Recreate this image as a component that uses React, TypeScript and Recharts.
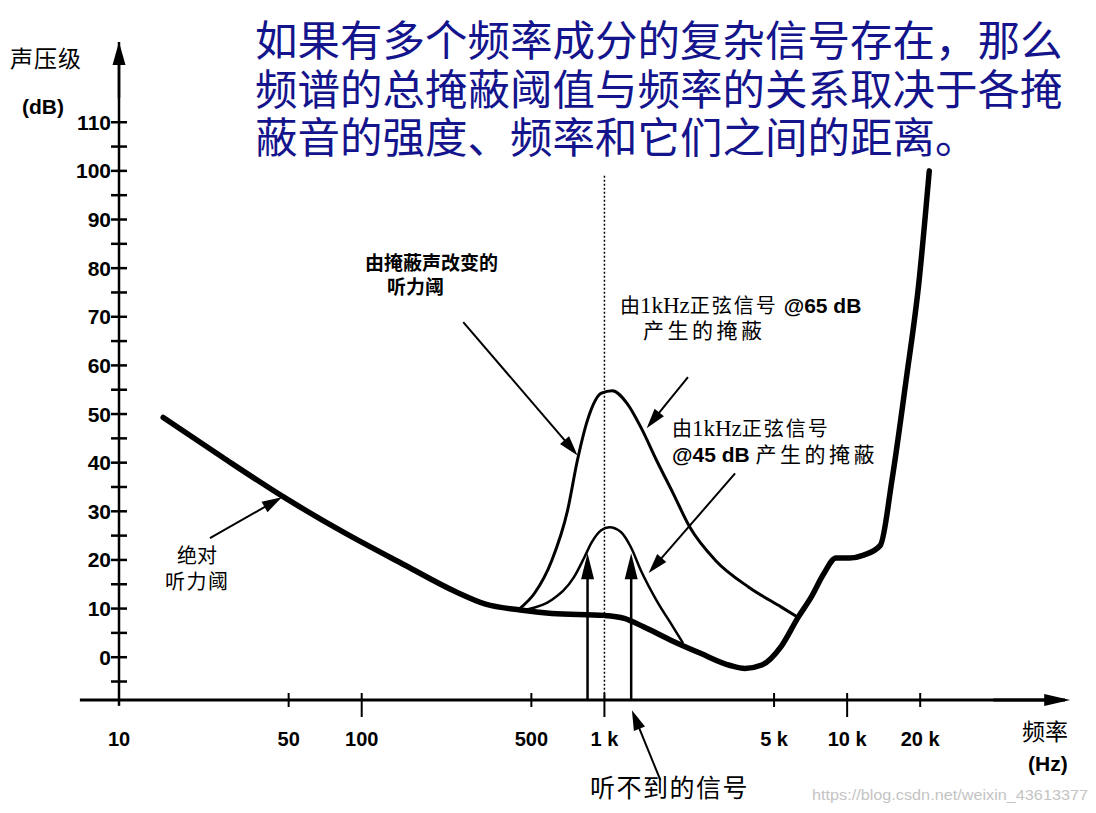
import React from 'react'
import { LineChart, Line, XAxis, YAxis, ReferenceLine } from 'recharts'

// absolute threshold of hearing (thick curve)
const thresholdHz = [15.2, 26.7, 47.8, 85.5, 151, 243, 324, 450, 608, 1000, 1207, 1456, 1877, 2488, 3300, 3790, 4450, 5360, 6280, 7100, 8000, 9000, 10200, 11700, 13700, 15300, 17500, 19700, 21800]
const thresholdDb = [49.3, 41.1, 32.9, 25.5, 18.9, 13.5, 10.9, 9.7, 9.0, 8.6, 8.0, 6.2, 3.5, 0.8, -1.7, -2.3, -1.6, 2.3, 8.2, 12.3, 17.1, 20.4, 20.4, 21.0, 23.0, 36.4, 57.0, 76.5, 100.0]

// masking by a 1 kHz tone @65 dB
const mask65Hz = [448, 516, 607, 705, 774, 851, 972, 1077, 1239, 1412, 1639, 1919, 2250, 2869, 3934, 5358, 6280]
const mask65Db = [10.0, 13.2, 19.9, 30.2, 40.5, 48.7, 54.3, 54.8, 52.2, 47.3, 40.5, 33.7, 26.7, 19.9, 14.4, 10.3, 8.2]

// masking by a 1 kHz tone @45 dB
const mask45Hz = [480, 608, 750, 826, 886, 970, 1048, 1172, 1286, 1412, 1639, 1919, 2108]
const mask45Db = [9.8, 11.8, 16.5, 20.5, 23.6, 26.1, 26.7, 25.7, 22.6, 17.9, 11.7, 6.2, 2.9]

// inaudible signals (vertical arrows)
const signalHz = [852, 1289]
const signalDb = [21.4, 21.4]

const xTicks = [10, 50, 100, 500, 1000, 5000, 10000, 20000]
const xTickLabels = ['10', '50', '100', '500', '1 k', '5 k', '10 k', '20 k']
const yTicks = [-5, 0, 5, 10, 15, 20, 25, 30, 35, 40, 45, 50, 55, 60, 65, 70, 75, 80, 85, 90, 95, 100, 105, 110]

const Y_MIN = -8.8
const Y_MAX = 126.5

const toRows = (hz: number[], db: number[]) => hz.map((f, i) => ({ f, db: db[i] }))

const SANS = '"Liberation Sans", Arial, sans-serif'
const CJK = '"Noto Sans CJK SC", sans-serif'
const SERIF = '"Liberation Serif", "Times New Roman", serif'

const arrowShape = (w: number, len: number, half: number) => (p: any) => {
    const { x1, y1, x2, y2 } = p
    const dx = x2 - x1
    const dy = y2 - y1
    const L = Math.hypot(dx, dy) || 1
    const ux = dx / L
    const uy = dy / L
    const bx = x2 - ux * len
    const by = y2 - uy * len
    const pts = `${x2},${y2} ${bx - uy * half},${by + ux * half} ${bx + uy * half},${by - ux * half}`
    return (
        <g>
            <line x1={x1} y1={y1} x2={bx + ux * 2} y2={by + uy * 2} stroke="#000" strokeWidth={w} />
            <polygon points={pts} fill="#000" />
        </g>
    )
}

const XTick = (p: any) => {
    const { x, payload } = p
    const y = 700
    const v = payload.value
    const label = xTickLabels[xTicks.indexOf(v)]
    const long = v === 100 || v === 1000 || v === 10000
    return (
        <g>
            {v !== 10 && (
                <line x1={x} x2={x} y1={y - 7} y2={y + (long ? 17 : 7)} stroke="#000" strokeWidth={2} />
            )}
            <text x={x} y={y + 46} textAnchor="middle" fontFamily={SANS} fontWeight="bold" fontSize={20} fill="#000">
                {label}
            </text>
        </g>
    )
}

const YTick = (p: any) => {
    const { y, payload } = p
    const x = 119
    const v = payload.value
    return (
        <g>
            <line x1={x - 8} x2={x + 8} y1={y} y2={y} stroke="#000" strokeWidth={2.5} />
            {v >= 0 && v % 10 === 0 && (
                <text x={x - 8} y={y + 7.5} textAnchor="end" fontFamily={SANS} fontWeight="bold" fontSize={21} fill="#000">
                    {v}
                </text>
            )}
        </g>
    )
}

export default function App() {
    return (
        <div style={{ position: 'absolute', left: 0, top: 0, width: 1096, height: 813, background: '#fff' }}>
            <LineChart width={1096} height={813} margin={{ top: 42, right: 31, bottom: 83, left: 89 }}>
                <XAxis
                    type="number"
                    dataKey="f"
                    scale="log"
                    domain={[10, 79000]}
                    allowDataOverflow
                    ticks={xTicks}
                    interval={0}
                    height={30}
                    tickSize={0}
                    tickMargin={0}
                    tickLine={false}
                    axisLine={{ stroke: '#000', strokeWidth: 3 }}
                    tick={<XTick />}
                />
                <YAxis
                    type="number"
                    domain={[Y_MIN, Y_MAX]}
                    allowDataOverflow
                    ticks={yTicks}
                    interval={0}
                    width={30}
                    tickSize={0}
                    tickMargin={0}
                    tickLine={false}
                    axisLine={{ stroke: '#000', strokeWidth: 2.5 }}
                    tick={<YTick />}
                />

                {/* axis extensions and arrowheads */}
                <ReferenceLine segment={[{ x: 6.9, y: Y_MIN }, { x: 10, y: Y_MIN }]} stroke="#000" strokeWidth={3} ifOverflow="visible" />
                <ReferenceLine segment={[{ x: 10, y: Y_MIN }, { x: 10, y: -10 }]} stroke="#000" strokeWidth={2.5} ifOverflow="visible" />
                <ReferenceLine segment={[{ x: 10, y: 115 }, { x: 10, y: Y_MAX }]} ifOverflow="visible" shape={arrowShape(2.5, 23, 6.5)} />
                <ReferenceLine segment={[{ x: 40000, y: Y_MIN }, { x: 83000, y: Y_MIN }]} ifOverflow="visible" shape={arrowShape(3, 26, 6)} />

                {/* 1 kHz dotted marker */}
                <ReferenceLine segment={[{ x: 1000, y: 99 }, { x: 1000, y: Y_MIN }]} stroke="#000" strokeWidth={1.5} strokeDasharray="2 2" ifOverflow="visible" />

                {/* inaudible signals */}
                {signalHz.map((f, i) => (
                    <ReferenceLine
                        key={f}
                        segment={[{ x: f, y: Y_MIN }, { x: f, y: signalDb[i] }]}
                        ifOverflow="visible"
                        shape={arrowShape(2.5, 26, 6.5)}
                    />
                ))}

                {/* annotation arrows */}
                <ReferenceLine segment={[{ x: 23.7, y: 24.5 }, { x: 46.9, y: 32.9 }]} ifOverflow="visible" shape={arrowShape(2, 20, 6)} />
                <ReferenceLine segment={[{ x: 262, y: 68.9 }, { x: 775, y: 41.5 }]} ifOverflow="visible" shape={arrowShape(2, 20, 6)} />
                <ReferenceLine segment={[{ x: 2209, y: 57.6 }, { x: 1493, y: 47.1 }]} ifOverflow="visible" shape={arrowShape(2, 20, 6)} />
                <ReferenceLine segment={[{ x: 3454, y: 37.8 }, { x: 1521, y: 17.3 }]} ifOverflow="visible" shape={arrowShape(2, 20, 6)} />
                <ReferenceLine segment={[{ x: 1701, y: -25.3 }, { x: 1298, y: -10.9 }]} ifOverflow="visible" shape={arrowShape(2, 20, 6)} />

                <Line data={toRows(mask65Hz, mask65Db)} dataKey="db" type="monotone" stroke="#000" strokeWidth={3} dot={false} isAnimationActive={false} />
                <Line data={toRows(mask45Hz, mask45Db)} dataKey="db" type="monotone" stroke="#000" strokeWidth={2.5} dot={false} isAnimationActive={false} />
                <Line data={toRows(thresholdHz, thresholdDb)} dataKey="db" type="monotone" stroke="#000" strokeWidth={5.5} strokeLinecap="round" dot={false} isAnimationActive={false} />
            </LineChart>

            <svg width={1096} height={813} style={{ position: 'absolute', left: 0, top: 0, pointerEvents: 'none' }}>
                <g fill="#14148c" fontFamily={CJK} fontSize={42.5}>
                    <text x={255} y={56}>如果有多个频率成分的复杂信号存在，那么</text>
                    <text x={255} y={105}>频谱的总掩蔽阈值与频率的关系取决于各掩</text>
                    <text x={255} y={153}>蔽音的强度、频率和它们之间的距离。</text>
                </g>

                <text x={10} y={67} fontFamily={CJK} fontSize={23} letterSpacing={1}>声压级</text>
                <text x={22} y={114} fontFamily={SANS} fontWeight="bold" fontSize={21}>(dB)</text>

                <text x={365} y={270} fontFamily={CJK} fontWeight="bold" fontSize={19}>由掩蔽声改变的</text>
                <text x={387} y={294} fontFamily={CJK} fontWeight="bold" fontSize={19}>听力阈</text>

                <text x={620} y={313} fontSize={20}>
                    <tspan fontFamily={CJK}>由</tspan>
                    <tspan fontFamily={SERIF} fontSize={23}>1kHz</tspan>
                    <tspan fontFamily={CJK} letterSpacing={2}>正弦信号</tspan>
                    <tspan fontFamily={SANS} fontWeight="bold" fontSize={21}> @65 dB</tspan>
                </text>
                <text x={643} y={338} fontFamily={CJK} fontSize={21} letterSpacing={3.5}>产生的掩蔽</text>

                <text x={672} y={436} fontSize={20}>
                    <tspan fontFamily={CJK}>由</tspan>
                    <tspan fontFamily={SERIF} fontSize={23}>1kHz</tspan>
                    <tspan fontFamily={CJK} letterSpacing={2}>正弦信号</tspan>
                </text>
                <text x={672} y={462} fontSize={21}>
                    <tspan fontFamily={SANS} fontWeight="bold">@45 dB </tspan>
                    <tspan fontFamily={CJK} letterSpacing={3.5}>产生的掩蔽</tspan>
                </text>

                <text x={177} y={563} fontFamily={CJK} fontSize={20}>绝对</text>
                <text x={165} y={589} fontFamily={CJK} fontSize={20} letterSpacing={1.5}>听力阈</text>

                <text x={590} y={797} fontFamily={CJK} fontSize={25} letterSpacing={1.5}>听不到的信号</text>

                <text x={1022} y={740} fontFamily={CJK} fontSize={23}>频率</text>
                <text x={1028} y={771} fontFamily={SANS} fontWeight="bold" fontSize={21}>(Hz)</text>

                <text x={812} y={800} fontFamily={SANS} fontSize={15} fill="#c4c4c4" textLength={276} lengthAdjust="spacingAndGlyphs">
                    https://blog.csdn.net/weixin_43613377
                </text>
            </svg>
        </div>
    )
}
